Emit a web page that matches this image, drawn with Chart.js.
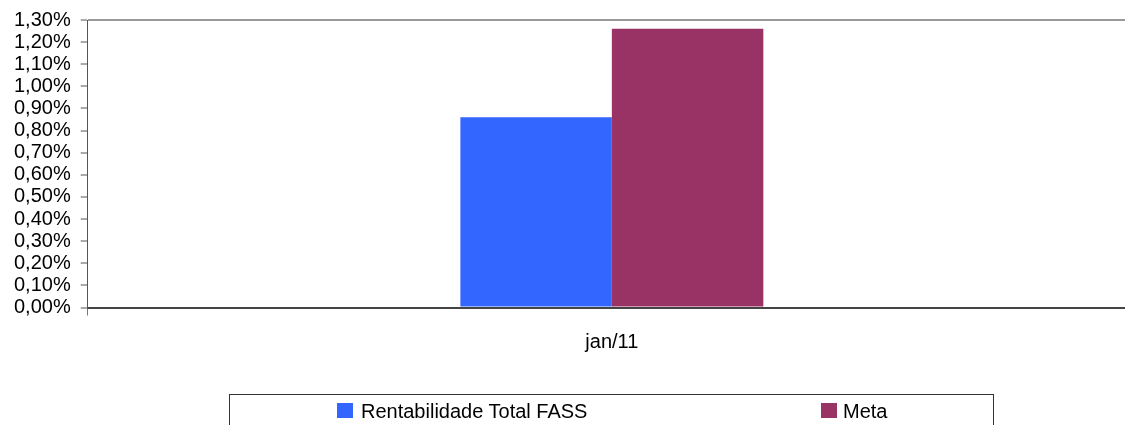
<!DOCTYPE html>
<html>
<head>
<meta charset="utf-8">
<script src="https://cdn.jsdelivr.net/npm/chart.js@4/dist/chart.umd.min.js"></script>
<style>
  html, body { margin: 0; padding: 0; background: #fff; overflow: hidden; }
  #wrap { position: relative; width: 1125px; height: 425px; overflow: hidden; }
  #chart { position: absolute; left: 0; top: 0; }
  #legend {
    position: absolute; left: 229px; top: 394px; width: 765px; height: 60px;
    border: 1px solid #333; box-sizing: border-box;
    font-family: "Liberation Sans", Arial, sans-serif; font-size: 20px; color: #000;
  }
  .item { position: absolute; top: 6px; line-height: 20px; white-space: nowrap; }
  .sw { position: absolute; top: 2px; width: 16px; height: 15px; }
  .item span.txt { position: absolute; top: 0; }
</style>
</head>
<body>
<div id="wrap">
  <canvas id="chart" width="1140" height="425"></canvas>
  <div id="legend"></div>
</div>
<script>
(function () {
  'use strict';

  var categories = ['jan/11'];
  var seriesNames = ['Rentabilidade Total FASS', 'Meta'];
  var rentabilidade = [0.86];
  var meta = [1.26];
  var seriesColors = ['#3366FF', '#993366'];
  var yMax = 1.3;
  var yStep = 0.1;

  function fmtPct(v) {
    return v.toFixed(2).replace('.', ',') + '%';
  }

  var FONT = { family: '"Liberation Sans", Arial, sans-serif', size: 20 };
  var YFONT = { family: '"Liberation Sans", Arial, sans-serif', size: 20, lineHeight: 1 };

  var ctx = document.getElementById('chart').getContext('2d');
  new Chart(ctx, {
    type: 'bar',
    data: {
      labels: categories,
      datasets: [
        { label: seriesNames[0], data: rentabilidade, backgroundColor: seriesColors[0] },
        { label: seriesNames[1], data: meta, backgroundColor: seriesColors[1] }
      ]
    },
    options: {
      responsive: false,
      animation: false,
      devicePixelRatio: 1,
      layout: { padding: { top: 18.5, left: 4, right: 4, bottom: 55.5 } },
      datasets: { bar: { categoryPercentage: 0.289, barPercentage: 1 } },
      plugins: { legend: { display: false }, tooltip: { enabled: false } },
      scales: {
        x: {
          grid: { drawOnChartArea: false, tickLength: 8, tickColor: '#777', offset: true },
          border: { color: '#444', width: 2 },
          ticks: { color: '#000', font: FONT, padding: 15 }
        },
        y: {
          min: 0,
          max: yMax,
          grid: {
            color: function (c) { return Math.abs(c.tick.value - yMax) < 1e-6 ? '#999' : 'rgba(0,0,0,0)'; },
            lineWidth: 2,
            tickLength: 7,
            tickColor: '#555',
            tickWidth: 1
          },
          border: { color: '#555', width: 1 },
          ticks: {
            stepSize: yStep,
            color: '#000',
            font: YFONT,
            padding: 10,
            autoSkip: false,
            callback: function (v) { return fmtPct(v); }
          }
        }
      }
    }
  });

  var legend = document.getElementById('legend');
  var itemLeft = [107, 591];
  seriesNames.forEach(function (name, i) {
    var it = document.createElement('div');
    it.className = 'item';
    it.style.left = itemLeft[i] + 'px';
    it.innerHTML = '<span class="sw" style="left:0;background:' + seriesColors[i] + '"></span>' +
      '<span class="txt" style="left:' + (i === 0 ? 24 : 22) + 'px">' + name + '</span>';
    legend.appendChild(it);
  });
})();
</script>
</body>
</html>
